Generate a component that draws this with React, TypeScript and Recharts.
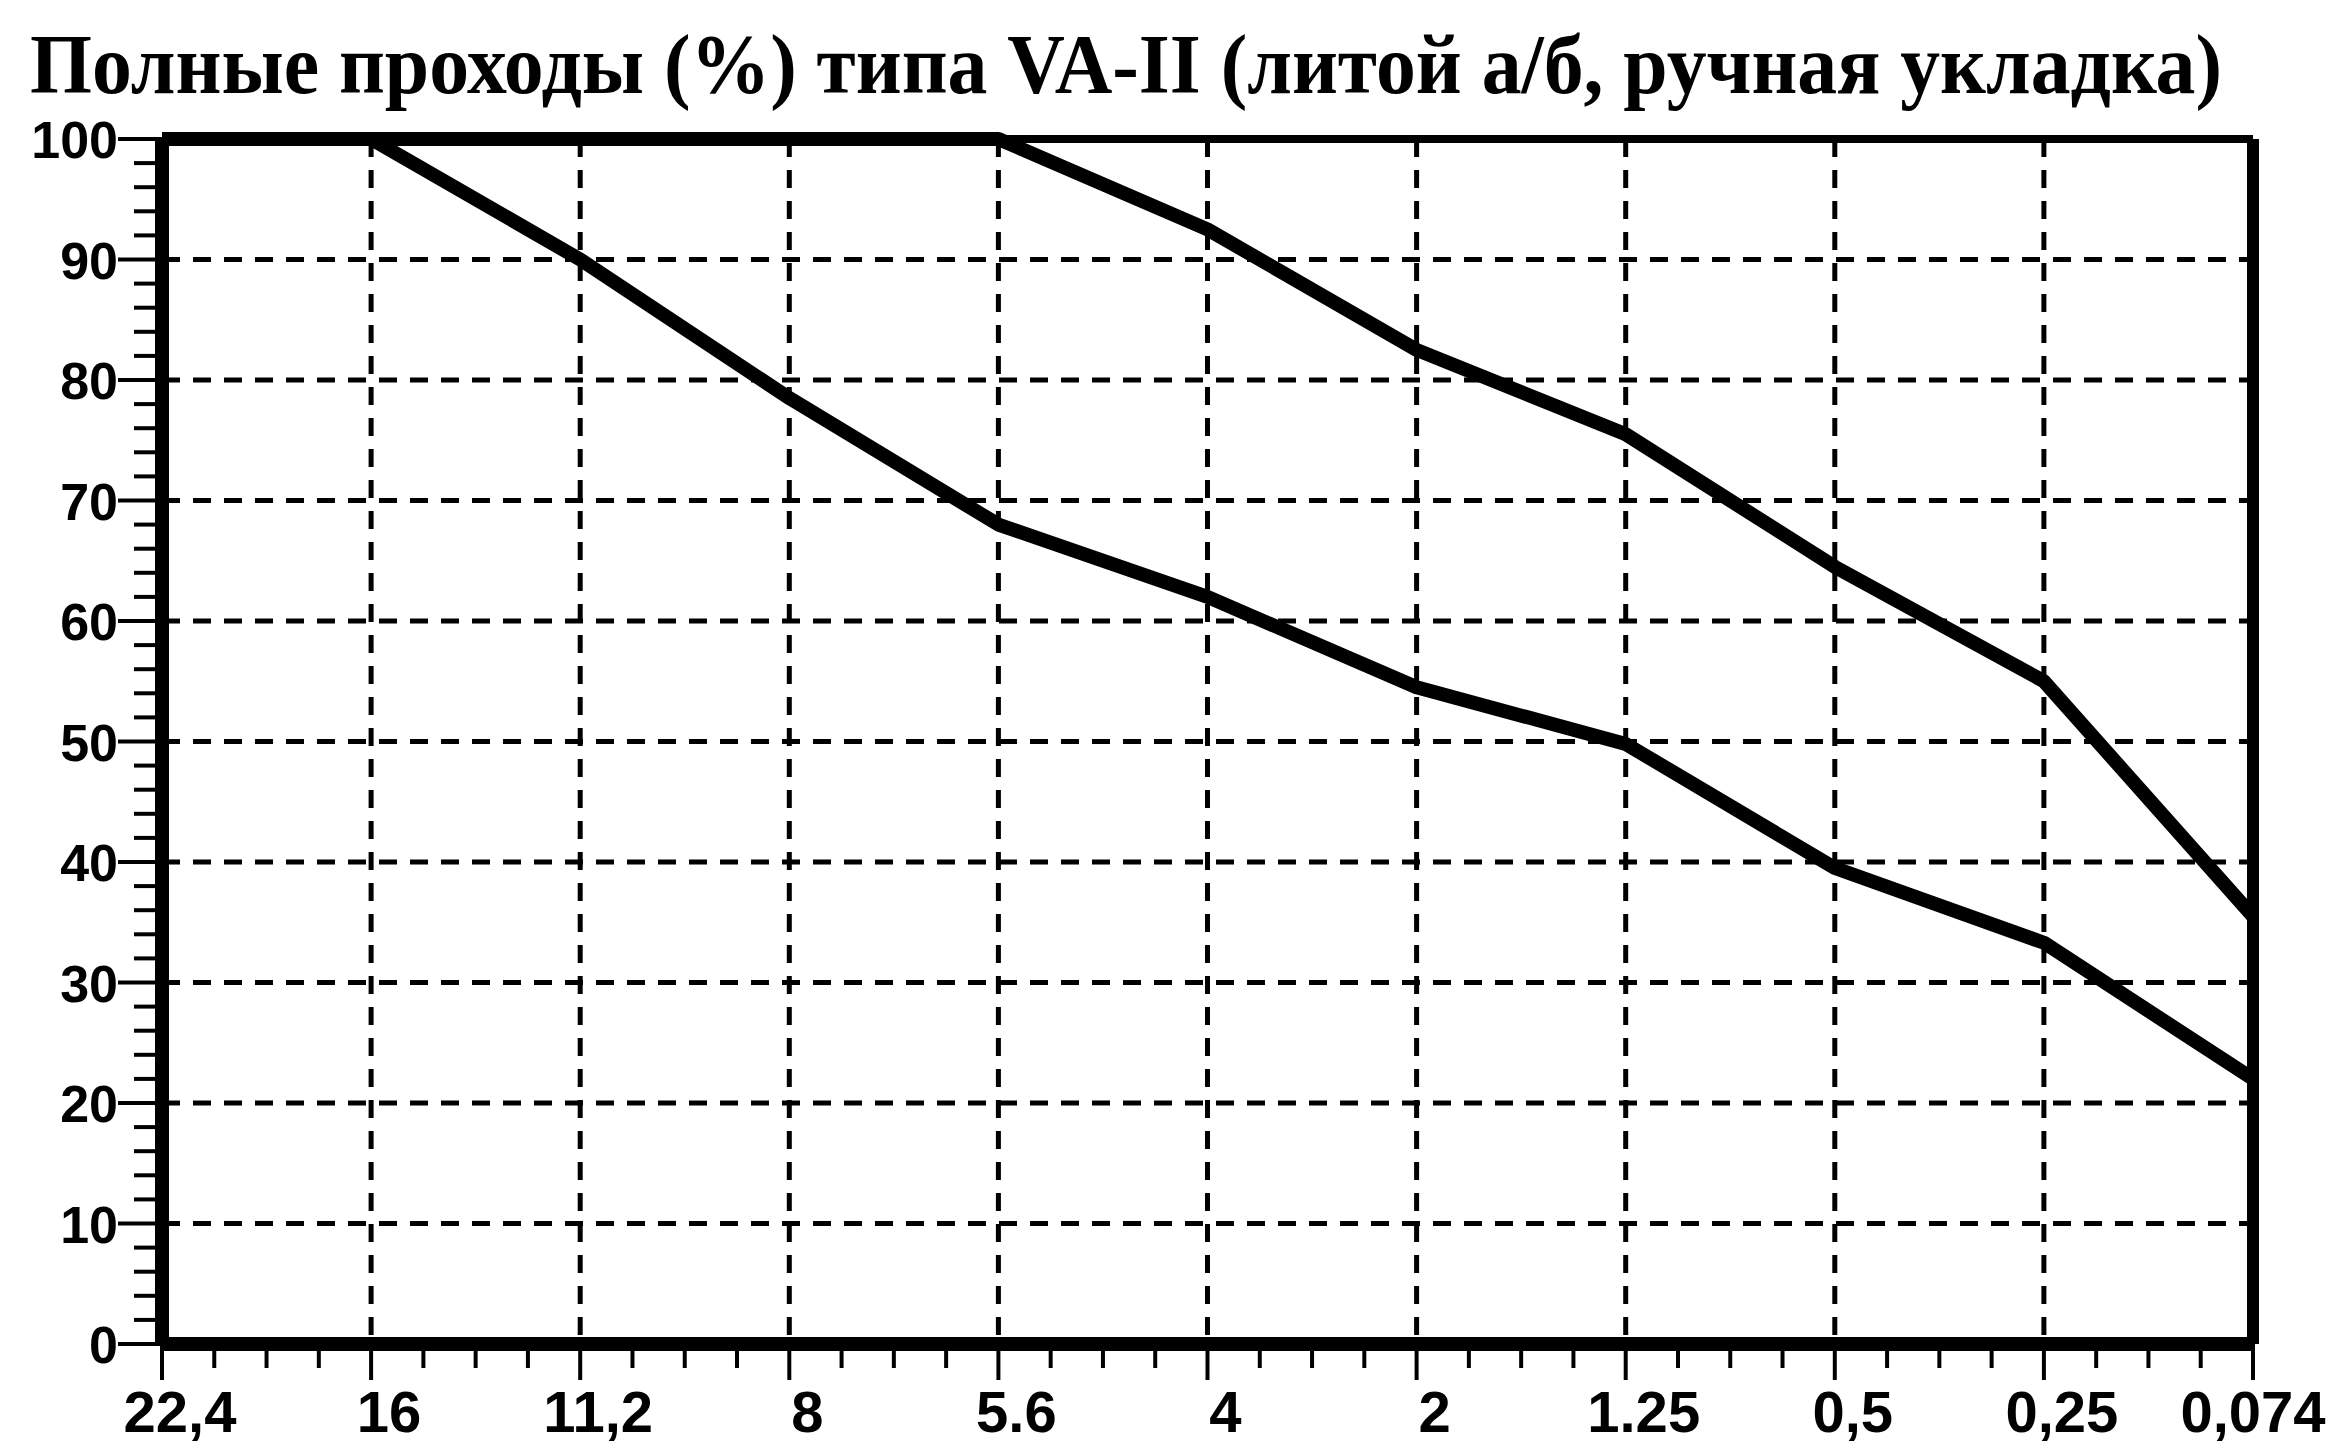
import React from 'react';
import {
  LineChart,
  Line,
  XAxis,
  YAxis,
  CartesianGrid,
  ReferenceLine,
} from 'recharts';

// sieve sizes, mm (x categories, left to right)
const sieveSizes = ['22,4', '16', '11,2', '8', '5.6', '4', '2', '1.25', '0,5', '0,25', '0,074'];

// upper and lower limit of full passing, %
const upperPassing = [100, 100, 100, 100, 100, 92.5, 82.5, 75.5, 64.5, 55, 35.5];
const lowerPassing = [100, 100, 90, 78.5, 68, 62, 54.5, 49.8, 39.5, 33.3, 22];

const yMajorTicks = [0, 10, 20, 30, 40, 50, 60, 70, 80, 90, 100];

const title = 'Полные проходы (%) типа VA-II (литой а/б, ручная укладка)';

const data = sieveSizes.map((label, i) => ({
  pos: i,
  label,
  upper: upperPassing[i],
  lower: lowerPassing[i],
}));

const lastPos = sieveSizes.length - 1;
// x ticks: every category plus 3 minor ticks between them
const xTicks = Array.from({ length: lastPos * 4 + 1 }, (_, i) => i / 4);
// y ticks: major every 10, minor every 2
const yTicks = Array.from({ length: 51 }, (_, i) => i * 2);

const WIDTH = 2332;
const HEIGHT = 1447;

const YTick = (props: any) => {
  const { x, y, payload } = props;
  const v = payload.value;
  const major = v % 10 === 0;
  return (
    <g>
      <line x1={x - (major ? 44 : 28)} x2={x} y1={y} y2={y} stroke="#000" strokeWidth={4} />
      {major && (
        <text
          x={x - 44}
          y={y}
          dy={19}
          textAnchor="end"
          fontFamily="'Liberation Sans', Arial, sans-serif"
          fontWeight={700}
          fontSize={52}
          fill="#000"
        >
          {v}
        </text>
      )}
    </g>
  );
};

const XTick = (props: any) => {
  const { x, y, payload } = props;
  const v = payload.value;
  const major = Number.isInteger(v);
  return (
    <g>
      <line x1={x} x2={x} y1={y} y2={y + (major ? 36 : 24)} stroke="#000" strokeWidth={4} />
      {major && (
        <text
          x={x}
          y={y + 88}
          dx={v === lastPos ? 0 : 18}
          textAnchor="middle"
          fontFamily="'Liberation Sans', Arial, sans-serif"
          fontWeight={700}
          fontSize={58}
          fill="#000"
        >
          {sieveSizes[v]}
        </text>
      )}
    </g>
  );
};

export default function App() {
  return (
    <div
      style={{
        position: 'absolute',
        left: 0,
        top: 0,
        width: WIDTH,
        height: HEIGHT,
        background: '#fff',
        overflow: 'hidden',
      }}
    >
      <svg
        width={WIDTH}
        height={160}
        style={{ position: 'absolute', left: 0, top: 0, pointerEvents: 'none' }}
      >
        <text
          x={30}
          y={93}
          textLength={2192}
          lengthAdjust="spacingAndGlyphs"
          fontFamily="'Liberation Serif', 'Times New Roman', serif"
          fontWeight={700}
          fontSize={84}
          fill="#000"
        >
          {title}
        </text>
      </svg>
      <LineChart
        width={WIDTH}
        height={HEIGHT}
        data={data}
        margin={{ top: 139, right: 79, bottom: 10, left: 18 }}
      >
        <CartesianGrid
          stroke="#000"
          strokeWidth={5}
          strokeDasharray="18 13"
          horizontalValues={yMajorTicks.slice(1, -1)}
          verticalValues={data.slice(1, -1).map(d => d.pos)}
        />
        <XAxis
          dataKey="pos"
          type="number"
          domain={[0, lastPos]}
          ticks={xTicks}
          interval={0}
          height={93}
          tickSize={0}
          tickMargin={0}
          tickLine={false}
          axisLine={{ stroke: '#000', strokeWidth: 14 }}
          tick={<XTick />}
        />
        <YAxis
          type="number"
          domain={[0, 100]}
          ticks={yTicks}
          interval={0}
          width={144}
          tickSize={0}
          tickMargin={0}
          tickLine={false}
          axisLine={{ stroke: '#000', strokeWidth: 14 }}
          tick={<YTick />}
        />
        <ReferenceLine y={100} stroke="#000" strokeWidth={8} />
        <ReferenceLine x={lastPos} stroke="#000" strokeWidth={12} />
        <Line
          type="linear"
          dataKey="upper"
          stroke="#000"
          strokeWidth={14}
          strokeLinejoin="round"
          dot={false}
          isAnimationActive={false}
        />
        <Line
          type="linear"
          dataKey="lower"
          stroke="#000"
          strokeWidth={14}
          strokeLinejoin="round"
          dot={false}
          isAnimationActive={false}
        />
      </LineChart>
    </div>
  );
}
